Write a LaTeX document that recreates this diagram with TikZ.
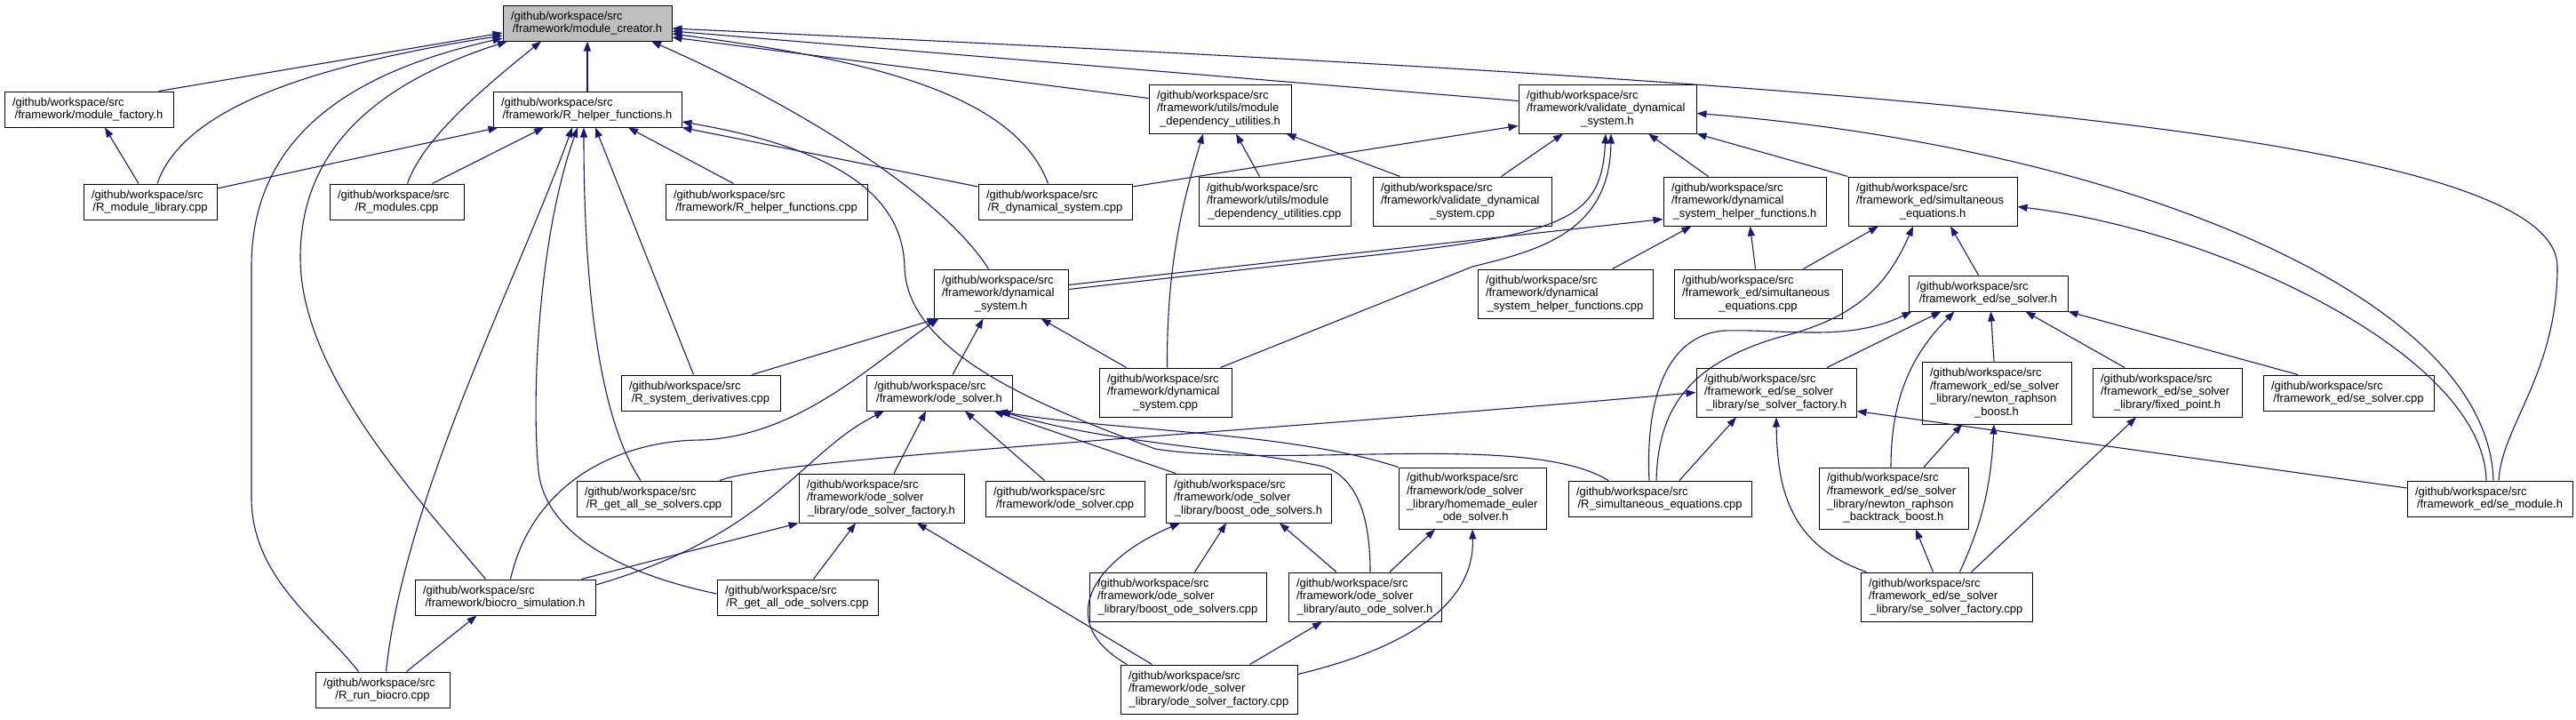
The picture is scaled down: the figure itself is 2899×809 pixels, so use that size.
\documentclass[tikz,border=0pt]{standalone}
\usepackage{fontspec}
\setmainfont{Liberation Sans}
\usepackage{xcolor}
\usetikzlibrary{arrows.meta}

\definecolor{edgeblue}{HTML}{191970}
\definecolor{rootgray}{HTML}{BFBFBF}
\newcommand{\lft}[1]{\makebox[\hsize][l]{#1}}
\newcommand{\ctr}[1]{\makebox[\hsize][c]{#1}}

\begin{document}
\begin{tikzpicture}[
        x=1pt, y=-1pt,
        file/.style={draw=black, line width=1pt, fill=white, inner xsep=9pt, inner ysep=0pt,
            align=center, font=\fontsize{13}{14.7}\selectfont},
        dep/.style={draw=edgeblue, line width=1.1pt, {Triangle[length=11pt,width=8pt]}-}
    ]
    \useasboundingbox (0,0) rectangle (2899,809);

    % --- row 0 ---
    \node[file, fill=rootgray, minimum width=190pt, minimum height=40pt, text width=172pt] (mc) at (661,26)
        {\lft{/github/workspace/src}\\\ctr{/framework/module\_creator.h}};

    % --- row 1 ---
    \node[file, minimum width=190pt, minimum height=40pt, text width=172pt] (mf) at (100,123)
        {\lft{/github/workspace/src}\\\ctr{/framework/module\_factory.h}};
    \node[file, minimum width=212pt, minimum height=40pt, text width=194pt] (rhf) at (661,123)
        {\lft{/github/workspace/src}\\\ctr{/framework/R\_helper\_functions.h}};
    \node[file, minimum width=160pt, minimum height=55pt, text width=142pt] (mduh) at (1373,122.5)
        {\lft{/github/workspace/src}\\\lft{/framework/utils/module}\\\ctr{\_dependency\_utilities.h}};
    \node[file, minimum width=200pt, minimum height=55pt, text width=182pt] (vdsh) at (1809,122.5)
        {\lft{/github/workspace/src}\\\lft{/framework/validate\_dynamical}\\\ctr{\_system.h}};

    % --- row 2 ---
    \node[file, minimum width=150pt, minimum height=40pt, text width=132pt] (rml) at (169,227)
        {\lft{/github/workspace/src}\\\ctr{/R\_module\_library.cpp}};
    \node[file, minimum width=151pt, minimum height=40pt, text width=133pt] (rmod) at (446.5,227)
        {\lft{/github/workspace/src}\\\ctr{/R\_modules.cpp}};
    \node[file, minimum width=227pt, minimum height=40pt, text width=209pt] (rhfc) at (862.5,227)
        {\lft{/github/workspace/src}\\\ctr{/framework/R\_helper\_functions.cpp}};
    \node[file, minimum width=173pt, minimum height=40pt, text width=155pt] (rds) at (1187.5,227)
        {\lft{/github/workspace/src}\\\ctr{/R\_dynamical\_system.cpp}};
    \node[file, minimum width=171pt, minimum height=55pt, text width=153pt] (mduc) at (1434.5,226.5)
        {\lft{/github/workspace/src}\\\lft{/framework/utils/module}\\\ctr{\_dependency\_utilities.cpp}};
    \node[file, minimum width=201pt, minimum height=55pt, text width=183pt] (vdsc) at (1645.5,226.5)
        {\lft{/github/workspace/src}\\\lft{/framework/validate\_dynamical}\\\ctr{\_system.cpp}};
    \node[file, minimum width=183pt, minimum height=55pt, text width=165pt] (dshfh) at (1963.5,226.5)
        {\lft{/github/workspace/src}\\\lft{/framework/dynamical}\\\ctr{\_system\_helper\_functions.h}};
    \node[file, minimum width=190pt, minimum height=55pt, text width=172pt] (simh) at (2175,226.5)
        {\lft{/github/workspace/src}\\\lft{/framework\_ed/simultaneous}\\\ctr{\_equations.h}};

    % --- row 3 ---
    \node[file, minimum width=151pt, minimum height=55pt, text width=133pt] (dsh) at (1126.5,330.5)
        {\lft{/github/workspace/src}\\\lft{/framework/dynamical}\\\ctr{\_system.h}};
    \node[file, minimum width=197pt, minimum height=55pt, text width=179pt] (dshfc) at (1761.5,330.5)
        {\lft{/github/workspace/src}\\\lft{/framework/dynamical}\\\ctr{\_system\_helper\_functions.cpp}};
    \node[file, minimum width=189pt, minimum height=55pt, text width=171pt] (simc) at (1978.5,330.5)
        {\lft{/github/workspace/src}\\\lft{/framework\_ed/simultaneous}\\\ctr{\_equations.cpp}};
    \node[file, minimum width=179pt, minimum height=40pt, text width=161pt] (sesh) at (2237.5,330)
        {\lft{/github/workspace/src}\\\ctr{/framework\_ed/se\_solver.h}};

    % --- row 4 ---
    \node[file, minimum width=179pt, minimum height=40pt, text width=161pt] (rsd) at (788.5,442)
        {\lft{/github/workspace/src}\\\ctr{/R\_system\_derivatives.cpp}};
    \node[file, minimum width=164pt, minimum height=40pt, text width=146pt] (odeh) at (1057,442)
        {\lft{/github/workspace/src}\\\ctr{/framework/ode\_solver.h}};
    \node[file, minimum width=149pt, minimum height=55pt, text width=131pt] (dsc) at (1311.5,441.5)
        {\lft{/github/workspace/src}\\\lft{/framework/dynamical}\\\ctr{\_system.cpp}};
    \node[file, minimum width=180pt, minimum height=55pt, text width=162pt] (sesfh) at (1999,441.5)
        {\lft{/github/workspace/src}\\\lft{/framework\_ed/se\_solver}\\\ctr{\_library/se\_solver\_factory.h}};
    \node[file, minimum width=168pt, minimum height=70pt, text width=150pt] (nrbh) at (2247,442)
        {\lft{/github/workspace/src}\\\lft{/framework\_ed/se\_solver}\\\lft{\_library/newton\_raphson}\\\ctr{\_boost.h}};
    \node[file, minimum width=168pt, minimum height=55pt, text width=150pt] (fph) at (2439,441.5)
        {\lft{/github/workspace/src}\\\lft{/framework\_ed/se\_solver}\\\ctr{\_library/fixed\_point.h}};
    \node[file, minimum width=192pt, minimum height=40pt, text width=174pt] (sesc) at (2643,442)
        {\lft{/github/workspace/src}\\\ctr{/framework\_ed/se\_solver.cpp}};

    % --- row 5 ---
    \node[file, minimum width=174pt, minimum height=40pt, text width=156pt] (rgase) at (736,561)
        {\lft{/github/workspace/src}\\\ctr{/R\_get\_all\_se\_solvers.cpp}};
    \node[file, minimum width=186pt, minimum height=55pt, text width=168pt] (osfh) at (992,560.5)
        {\lft{/github/workspace/src}\\\lft{/framework/ode\_solver}\\\ctr{\_library/ode\_solver\_factory.h}};
    \node[file, minimum width=179pt, minimum height=40pt, text width=161pt] (osc) at (1198.5,561)
        {\lft{/github/workspace/src}\\\ctr{/framework/ode\_solver.cpp}};
    \node[file, minimum width=186pt, minimum height=55pt, text width=168pt] (bosh) at (1405,560.5)
        {\lft{/github/workspace/src}\\\lft{/framework/ode\_solver}\\\ctr{\_library/boost\_ode\_solvers.h}};
    \node[file, minimum width=166pt, minimum height=69pt, text width=148pt] (heh) at (1657,560.5)
        {\lft{/github/workspace/src}\\\lft{/framework/ode\_solver}\\\lft{\_library/homemade\_euler}\\\ctr{\_ode\_solver.h}};
    \node[file, minimum width=206pt, minimum height=40pt, text width=188pt] (rsim) at (1868,561)
        {\lft{/github/workspace/src}\\\ctr{/R\_simultaneous\_equations.cpp}};
    \node[file, minimum width=168pt, minimum height=69pt, text width=150pt] (nrbbh) at (2131,560.5)
        {\lft{/github/workspace/src}\\\lft{/framework\_ed/se\_solver}\\\lft{\_library/newton\_raphson}\\\ctr{\_backtrack\_boost.h}};
    \node[file, minimum width=186pt, minimum height=40pt, text width=168pt] (semh) at (2802,561)
        {\lft{/github/workspace/src}\\\ctr{/framework\_ed/se\_module.h}};

    % --- row 6 ---
    \node[file, minimum width=203pt, minimum height=40pt, text width=185pt] (bsh) at (568.5,672)
        {\lft{/github/workspace/src}\\\ctr{/framework/biocro\_simulation.h}};
    \node[file, minimum width=181pt, minimum height=40pt, text width=163pt] (rgaode) at (897.5,672)
        {\lft{/github/workspace/src}\\\ctr{/R\_get\_all\_ode\_solvers.cpp}};
    \node[file, minimum width=199pt, minimum height=55pt, text width=181pt] (bosc) at (1325.5,671.5)
        {\lft{/github/workspace/src}\\\lft{/framework/ode\_solver}\\\ctr{\_library/boost\_ode\_solvers.cpp}};
    \node[file, minimum width=172pt, minimum height=55pt, text width=154pt] (aosh) at (1536,671.5)
        {\lft{/github/workspace/src}\\\lft{/framework/ode\_solver}\\\ctr{\_library/auto\_ode\_solver.h}};
    \node[file, minimum width=193pt, minimum height=55pt, text width=175pt] (sesfc) at (2190.5,671.5)
        {\lft{/github/workspace/src}\\\lft{/framework\_ed/se\_solver}\\\ctr{\_library/se\_solver\_factory.cpp}};

    % --- row 7 ---
    \node[file, minimum width=151pt, minimum height=40pt, text width=133pt] (rrb) at (430.5,776)
        {\lft{/github/workspace/src}\\\ctr{/R\_run\_biocro.cpp}};
    \node[file, minimum width=199pt, minimum height=55pt, text width=181pt] (osfc) at (1360.5,775.5)
        {\lft{/github/workspace/src}\\\lft{/framework/ode\_solver}\\\ctr{\_library/ode\_solver\_factory.cpp}};

    % --- includes of module_creator.h ---
    \draw[dep] ([yshift=-11]mc.west) -- ([xshift=79]mf.north);
    \draw[dep] ([yshift=-14]mc.west) .. controls (340,75) and (205,125) .. ([xshift=8]rml.north);
    \draw[dep] ([yshift=-17]mc.west) .. controls (400,80) and (283,150) .. (283,300) -- (283,560) .. controls (283,650) and (360,700) .. ([xshift=-27]rrb.north);
    \draw[dep] ([xshift=-90]mc.south) .. controls (420,95) and (338,170) .. (338,290) .. controls (338,420) and (470,560) .. ([xshift=-22]bsh.north);
    \draw[dep] ([xshift=-52]mc.south) .. controls (530,110) and (475,160) .. ([xshift=12]rmod.north);
    \draw[dep] (mc) -- (rhf);
    \draw[dep] ([xshift=72]mc.south) .. controls (900,120) and (1060,220) .. ([xshift=-14]dsh.north);
    \draw[dep] ([yshift=-12]mc.east) .. controls (960,65) and (1140,100) .. ([xshift=-8]rds.north);
    \draw[dep] ([yshift=-16]mc.east) -- ([yshift=12]mduh.west);
    \draw[dep] ([yshift=-9]mc.east) -- ([yshift=9]vdsh.west);
    \draw[dep] ([yshift=-6]mc.east) .. controls (2000,90) and (2878,140) .. (2878,300) .. controls (2878,420) and (2815,480) .. ([xshift=10]semh.north);

    % --- includes of R_helper_functions.h ---
    \draw[dep] ([xshift=6]rhf.south west) -- ([yshift=15]rml.east);
    \draw[dep] ([xshift=-49]rhf.south) -- ([xshift=40]rmod.north);
    \draw[dep] ([xshift=-17]rhf.south) .. controls (580,320) and (455,560) .. ([xshift=4]rrb.north);
    \draw[dep] ([xshift=-11]rhf.south) .. controls (605,270) and (598,450) .. (606,530) .. controls (615,610) and (720,650) .. ([yshift=4]rgaode.west);
    \draw[dep] ([xshift=-4]rhf.south) .. controls (657,350) and (680,480) .. ([xshift=-15]rgase.north);
    \draw[dep] ([xshift=9]rhf.south) -- ([xshift=-8]rsd.north);
    \draw[dep] ([xshift=46]rhf.south) -- ([xshift=-37]rhfc.north);
    \draw[dep] (rhf.south east) -- ([yshift=17]rds.west);
    \draw[dep] ([yshift=-14]rhf.east) .. controls (960,170) and (1016,230) .. (1018,300) .. controls (1020,400) and (1180,460) .. (1300,505) .. controls (1450,528) and (1720,485) .. ([xshift=-58]rsim.north);
    \draw[dep] ([xshift=18]mf.south) -- ([xshift=-13]rml.north);

    % --- includes of dynamical_system.h ---
    \draw[dep] ([xshift=4]dsh.south west) -- ([xshift=58]rsd.north);
    \draw[dep] ([xshift=6]dsh.south west) .. controls (980,410) and (900,490) .. (790,495) .. controls (700,495) and (600,540) .. ([xshift=6]bsh.north);
    \draw[dep] ([xshift=-20]dsh.south) -- ([xshift=15]odeh.north);
    \draw[dep] ([xshift=45]dsh.south) -- ([xshift=-44]dsc.north);

    % --- includes of validate_dynamical_system.h ---
    \draw[dep] ([xshift=-2]vdsh.south) .. controls (1802,250) and (1760,265) .. (1500,292) -- ([yshift=5]dsh.east);
    \draw[dep] ([yshift=-20]dshfh.west) -- ([yshift=10]dsh.east);
    \draw[dep] ([xshift=4]vdsh.south) .. controls (1812,262) and (1730,282) .. (1657,300) -- ([xshift=62]dsc.north);
    \draw[dep] ([yshift=-19]vdsh.west) -- ([yshift=17]rds.east);
    \draw[dep] ([xshift=-50]vdsh.south) -- ([xshift=44]vdsc.north);
    \draw[dep] ([xshift=46]vdsh.south) -- ([xshift=-41]dshfh.north);
    \draw[dep] (vdsh.south east) -- (simh.north west);
    \draw[dep] ([yshift=-5]vdsh.east) .. controls (2380,165) and (2800,330) .. ([xshift=4]semh.north);

    % --- includes of module_dependency_utilities.h ---
    \draw[dep] ([xshift=18]mduh.south) -- ([xshift=-17]mduc.north);
    \draw[dep] ([xshift=-6]mduh.south east) -- ([xshift=-70]vdsc.north);
    \draw[dep] ([xshift=-19]mduh.south) .. controls (1330,230) and (1313,300) .. ([xshift=2]dsc.north);

    % --- dynamical_system_helper_functions.h, simultaneous_equations.h ---
    \draw[dep] ([xshift=-60]dshfh.south) -- ([xshift=53]dshfc.north);
    \draw[dep] ([xshift=6]dshfh.south) -- ([xshift=-3]simc.north);
    \draw[dep] ([xshift=-61]simh.south) -- ([xshift=51]simc.north);
    \draw[dep] ([xshift=20]simh.south) -- ([xshift=-11]sesh.north);
    \draw[dep] ([xshift=-22]simh.south) .. controls (2120,330) and (2080,360) .. (2000,380) .. controls (1900,410) and (1866,460) .. ([xshift=-4]rsim.north);
    \draw[dep] ([yshift=-6]simh.east) .. controls (2500,260) and (2795,400) .. ([xshift=-4]semh.north);

    % --- se_solver.h and its library ---
    \draw[dep] ([xshift=-53]sesh.south) -- ([xshift=57]sesfh.north);
    \draw[dep] ([xshift=-38]sesh.south) .. controls (2150,400) and (2128,450) .. ([xshift=-3]nrbbh.north);
    \draw[dep] ([xshift=3]sesh.south) -- ([xshift=-3]nrbh.north);
    \draw[dep] ([xshift=42]sesh.south) -- ([xshift=-48]fph.north);
    \draw[dep] (sesh.south east) -- ([xshift=-57]sesc.north);
    \draw[dep] ([xshift=4]sesh.south west) .. controls (2080,385) and (2010,370) .. (1940,372) .. controls (1870,378) and (1852,460) .. ([xshift=-12]rsim.north);
    \draw[dep] ([xshift=-45]sesfh.south) -- ([xshift=22]rsim.north);
    \draw[dep] (sesfh.south) .. controls (2000,560) and (2020,615) .. ([xshift=-90]sesfc.north);
    \draw[dep] ([yshift=-21]sesfh.east) -- ([yshift=12]semh.west);
    \draw[dep] (sesfh.west) .. controls (1300,495) and (880,515) .. ([xshift=74]rgase.north);
    \draw[dep] ([xshift=-39]nrbh.south) -- ([xshift=34]nrbbh.north);
    \draw[dep] ([xshift=-3]nrbh.south) .. controls (2240,560) and (2225,600) .. ([xshift=15]sesfc.north);
    \draw[dep] ([xshift=-35]fph.south) -- ([xshift=28]sesfc.north);
    \draw[dep] ([xshift=25]nrbbh.south) -- ([xshift=-15]sesfc.north);

    % --- ode_solver.h and its library ---
    \draw[dep] ([xshift=-62]odeh.south) .. controls (900,510) and (870,600) .. ([yshift=14]bsh.east);
    \draw[dep] ([xshift=-15]odeh.south) -- ([xshift=14]osfh.north);
    \draw[dep] ([xshift=29]odeh.south) -- ([xshift=-23]osc.north);
    \draw[dep] ([xshift=-21]odeh.south east) -- ([xshift=-82]bosh.north);
    \draw[dep] ([xshift=-17]odeh.south east) .. controls (1250,485) and (1450,485) .. (heh.north west);
    \draw[dep] ([xshift=-13]odeh.south east) .. controls (1250,500) and (1400,505) .. (1490,525) .. controls (1535,540) and (1542,600) .. ([xshift=6]aosh.north);
    \draw[dep] (osfh.south west) -- ([xshift=86]bsh.north);
    \draw[dep] ([xshift=-29]osfh.south) -- ([xshift=18]rgaode.north);
    \draw[dep] ([xshift=40]osfh.south) -- ([xshift=-64]osfc.north);
    \draw[dep] ([xshift=-25]bosh.south) -- ([xshift=19]bosc.north);
    \draw[dep] ([xshift=35]bosh.south) -- ([xshift=-32]aosh.north);
    \draw[dep] ([xshift=-77]bosh.south) .. controls (1230,630) and (1185,700) .. ([xshift=-92]osfc.north);
    \draw[dep] ([xshift=-42]heh.south) -- ([xshift=28]aosh.north);
    \draw[dep] (heh.south) .. controls (1660,690) and (1560,735) .. ([yshift=17]osfc.east);
    \draw[dep] ([xshift=-48]aosh.south) -- ([xshift=46]osfc.north);
    \draw[dep] ([xshift=-32]bsh.south) -- ([xshift=27]rrb.north);

\end{tikzpicture}
\end{document}
